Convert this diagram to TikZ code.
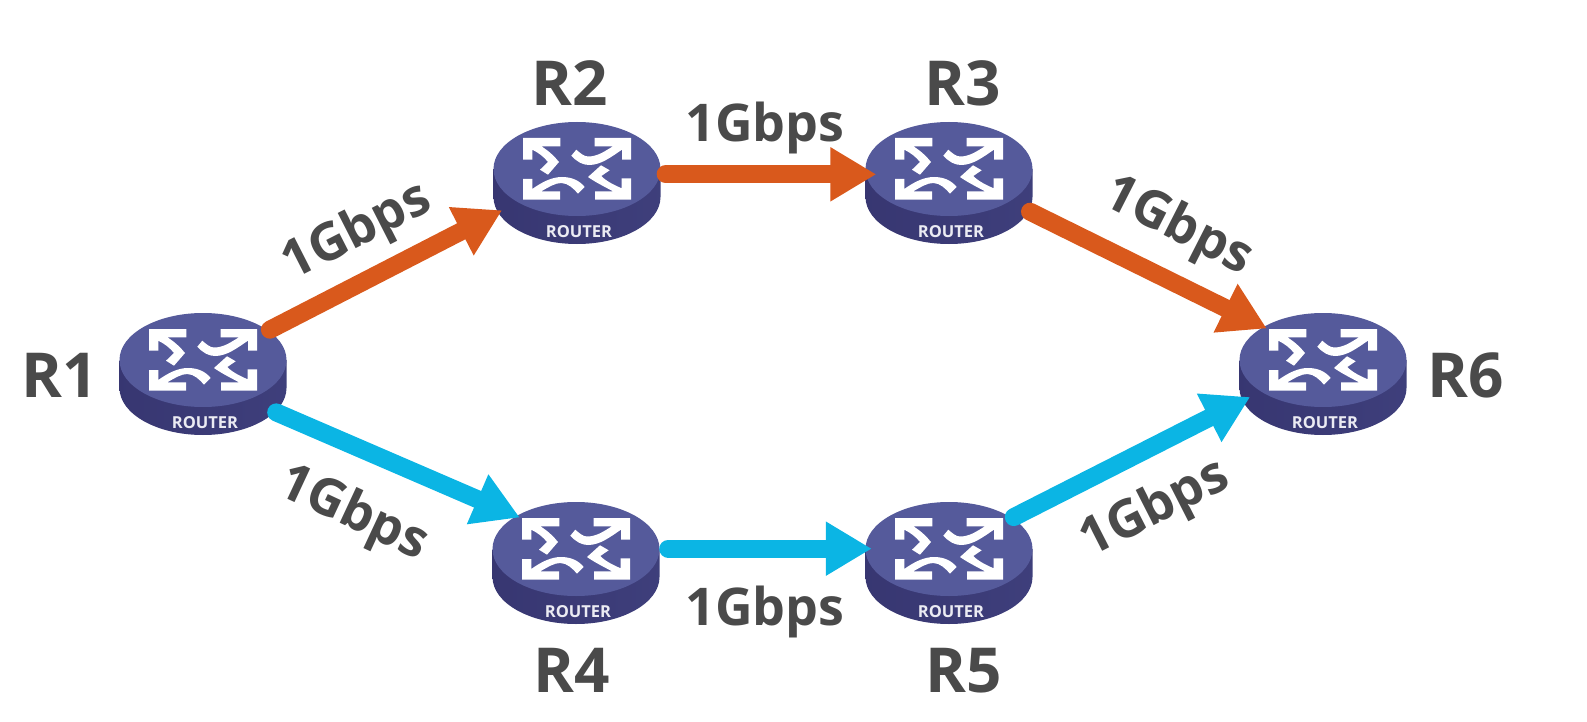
\documentclass[tikz,border=0pt]{standalone}
\usepackage{fontspec}
\setmainfont{Open Sans}
\usetikzlibrary{arrows.meta,shapes.geometric}

\definecolor{linkorange}{HTML}{D9591C}
\definecolor{linkcyan}{HTML}{0BB5E4}
\definecolor{routertop}{HTML}{555A9B}
\definecolor{routerside}{HTML}{32306A}
\definecolor{labelgray}{HTML}{4A4A4A}

\tikzset{
    routerbox/.style={ellipse, minimum width=167pt, minimum height=123pt, inner sep=0pt, outer sep=0pt},
    routertag/.style={font=\fontsize{16.5}{16.5}\selectfont\bfseries, text=white!88!routertop, inner sep=0pt},
    routername/.style={font=\fontsize{62}{62}\selectfont\bfseries, text=labelgray, inner sep=0pt, text height=44pt, text depth=0pt},
    ratelabel/.style={font=\fontsize{52}{52}\selectfont\bfseries, text=labelgray, inner sep=0pt, text height=37pt, text depth=0pt},
    toplink/.style={line width=18pt, line cap=round, linkorange, shorten <=6pt, -{Triangle[length=46pt,width=51pt]}},
    botlink/.style={line width=18pt, line cap=round, linkcyan, shorten <=6pt, -{Triangle[length=46pt,width=51pt]}}
}

\begin{document}
\begin{tikzpicture}[x=1pt, y=-1pt]
    \useasboundingbox (0, 0) rectangle (1587, 722);

    % Routers: body, top face, four white arrows and the tag
    \foreach \rname/\rx/\ry in {r1/203/360, r2/577/169, r3/949/169, r4/576/549, r5/949/549, r6/1323/360} {
        \begin{scope}[shift={(\rx, \ry)}]
            \node[routerbox] (\rname) at (0, 14) {};
            \shade[left color=routerside!85!routertop, middle color=routerside, right color=routerside!65!routertop]
                (-83.5, 0) -- (-83.5, 28) arc[start angle=180, end angle=360, x radius=83.5pt, y radius=47pt] -- (83.5, 0) -- cycle;
            \fill[routertop] (0, 0) ellipse (83.5pt and 47pt);
            % upper left, upper right
            \fill[white] (-54, -31) -- (-16.7, -31) -- (-16.7, -22.7) -- (-35.7, -22.7)
                .. controls (-28, -18) and (-22, -12) .. (-18, -7) -- (-29, 5.7) -- (-37, 0.7) -- (-29, -7)
                .. controls (-33, -12) and (-38, -16) .. (-44.7, -19.3) -- (-44.7, -9.3) -- (-54, -9.3) -- cycle;
            \fill[white] (54, -31) -- (17.7, -31) -- (17.7, -22.7) -- (36, -22.7)
                .. controls (28, -18) and (21, -12.5) .. (11, -12.5) .. controls (7, -12.5) and (3, -16) .. (-0.7, -19.3)
                -- (-5.7, -13.3) .. controls (0, -7) and (6, -4) .. (12, -4) .. controls (24, -4) and (34, -12) .. (45, -19.3)
                -- (45, -9.3) -- (54, -9.3) -- cycle;
            % lower left, lower right
            \fill[white] (-54, 30.7) -- (-17, 30.7) -- (-17, 22.3) -- (-35.7, 22.3)
                .. controls (-28, 18) and (-22, 14) .. (-15.7, 14) .. controls (-9, 14) and (-3, 20) .. (1, 24.7)
                -- (7.7, 18) .. controls (2, 11) and (-6, 8) .. (-15, 8) .. controls (-25, 8) and (-35, 13) .. (-44.7, 20)
                -- (-44.7, 10) -- (-54, 10) -- cycle;
            \fill[white] (54, 30.7) -- (18, 30.7) -- (18, 22.3) -- (36, 22.3)
                .. controls (28, 18) and (18, 13) .. (11, 8) -- (24, -3.7) -- (32.7, 1.3) -- (24.3, 7)
                .. controls (29, 12) and (37, 16) .. (44.7, 19.3) -- (44.7, 9.3) -- (54, 9.3) -- cycle;
            \node[routertag] (\rname-tag) at (2, 62.5) {ROUTER};
        \end{scope}
    }

    % Upper path
    \draw[toplink] (r1.34) -- (r2.200);
    \draw[toplink, shorten >=-10pt] (r2.6) -- (r3.174);
    \draw[toplink] (r3.341) -- (r6.141);

    % Lower path
    \draw[botlink] (r1.332) -- (r4.141);
    \draw[botlink, shorten <=11pt, shorten >=-4pt] (r4.10) -- (r5.170);
    \draw[botlink, shorten >=-4pt] (r5.36) -- (r6.198);

    % Router names
    \node[routername] (name1) at (60, 375) {R1};
    \node[routername] (name2) at (570, 84) {R2};
    \node[routername] (name3) at (963, 84) {R3};
    \node[routername] (name4) at (572, 670) {R4};
    \node[routername] (name5) at (964, 670) {R5};
    \node[routername] (name6) at (1466, 375) {R6};

    % Link rates
    \node[ratelabel, rotate=27] (rate12) at (355, 228) {1Gbps};
    \node[ratelabel] (rate23) at (765, 123) {1Gbps};
    \node[ratelabel, rotate=-27] (rate36) at (1180, 223) {1Gbps};
    \node[ratelabel, rotate=-25] (rate14) at (355, 510) {1Gbps};
    \node[ratelabel] (rate45) at (765, 607) {1Gbps};
    \node[ratelabel, rotate=27] (rate56) at (1153, 505) {1Gbps};
\end{tikzpicture}
\end{document}
